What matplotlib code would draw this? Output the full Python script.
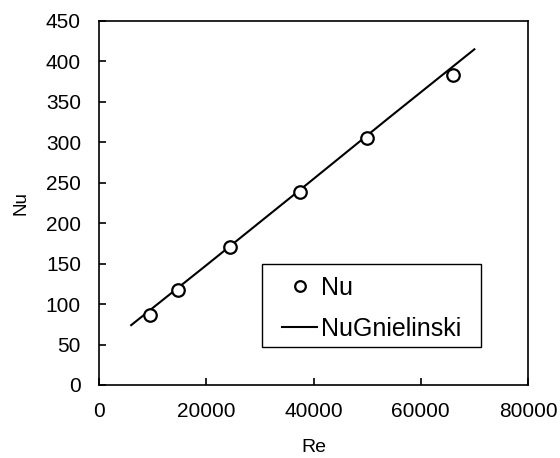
import matplotlib
matplotlib.use("Agg")
import matplotlib.pyplot as plt
from matplotlib.patches import Rectangle

plt.rcParams['font.family'] = ['Liberation Sans', 'DejaVu Sans']

re_exp = [9500, 14700, 24500, 37500, 50000, 66000]
nu_exp = [86, 117, 170, 239, 305, 383]

re_gn = [6000, 20000, 38000, 54000, 70000]
nu_gn = [74, 148, 244, 330, 415]

fig = plt.figure(figsize=(5.6, 4.58), dpi=100)
ax = fig.add_axes([99/560, 1-385/458, 429/560, 364/458])

ax.plot(re_gn, nu_gn, color='black', lw=1.5, label='NuGnielinski', zorder=2)
ax.plot(re_exp, nu_exp, 'o', ms=9, mfc='white', mec='black', mew=1.6, label='Nu', zorder=3, linestyle='none')

FS = 15
ax.set_xlim(0, 80000)
ax.set_ylim(0, 450)
ax.set_xticks(range(0, 80001, 20000))
ax.set_yticks(range(0, 451, 50))
ax.tick_params(direction='in', length=5, width=1.2, labelsize=FS, colors='black')
ax.tick_params(axis='x', pad=12)
ax.tick_params(axis='y', pad=13)
for s in ax.spines.values():
    s.set_linewidth(1.2)
ax.set_xlabel('Re', fontsize=14, labelpad=13)
ax.set_ylabel('Nu', fontsize=13.5, labelpad=12)

ax.add_patch(Rectangle((0.380, 0.104), 0.510, 0.228, transform=ax.transAxes,
                       fill=True, facecolor='white', edgecolor='black', lw=1.0, zorder=4))

h, l = ax.get_legend_handles_labels()
leg = ax.legend([h[1], h[0]], [l[1], l[0]], loc='upper left', bbox_to_anchor=(0.4266, 0.299),
                borderaxespad=0, fontsize=18, frameon=False,
                handlelength=1.4, handletextpad=0.15, borderpad=0, labelspacing=0.68, markerscale=0.85)
leg.set_zorder(5)

fig.savefig('out.png', dpi=100)
